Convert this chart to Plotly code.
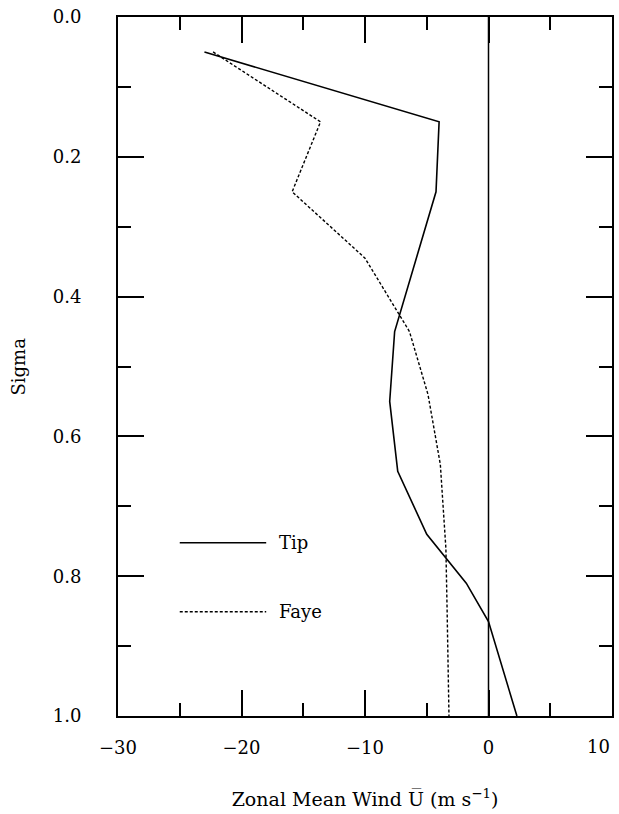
import plotly.graph_objects as go

# Data
sigma_tip = [0.05, 0.15, 0.25, 0.45, 0.55, 0.65, 0.74, 0.81, 0.865, 0.955, 1.0]
u_tip = [-23.0, -4.0, -4.25, -7.6, -8.0, -7.35, -5.0, -1.8, 0.0, 1.5, 2.3]

sigma_faye = [0.05, 0.15, 0.25, 0.345, 0.45, 0.54, 0.64, 0.76, 0.85, 0.95, 1.0]
u_faye = [-22.3, -13.6, -15.9, -10.0, -6.4, -4.9, -3.9, -3.45, -3.35, -3.25, -3.2]

legend_names = ["Tip", "Faye"]
x_ticks = [-30, -20, -10, 0, 10]
y_ticks = [0.0, 0.2, 0.4, 0.6, 0.8, 1.0]

FONT = "DejaVu Serif"

def fmt(v):
    return str(v).replace("-", "\u2212")

fig = go.Figure()
fig.add_trace(go.Scatter(x=u_tip, y=sigma_tip, mode="lines", name=legend_names[0],
                         line=dict(color="black", width=1.6), showlegend=False))
fig.add_trace(go.Scatter(x=u_faye, y=sigma_faye, mode="lines", name=legend_names[1],
                         line=dict(color="black", width=1.4, dash="3px,2px"), showlegend=False))

# zero line
fig.add_shape(type="line", xref="x", yref="paper", x0=0, x1=0, y0=0, y1=1,
              line=dict(color="black", width=1.5))

# hand-drawn style legend inside plot
leg_y = [0.752, 0.851]
leg_dash = ["solid", "3px,2px"]
for name, yy, dd in zip(legend_names, leg_y, leg_dash):
    fig.add_shape(type="line", xref="x", yref="y", x0=-25, x1=-18, y0=yy, y1=yy,
                  line=dict(color="black", width=1.5, dash=dd))
    fig.add_annotation(x=-17.1, y=yy, xref="x", yref="y", text=name, showarrow=False,
                       xanchor="left", yanchor="middle",
                       font=dict(family=FONT, size=18, color="black"))

# last x tick label sits flush with the right frame edge
fig.add_annotation(x=x_ticks[-1], y=0, xref="x", yref="paper", text=fmt(x_ticks[-1]),
                   showarrow=False, xanchor="right", yanchor="middle", yshift=-30,
                   font=dict(family=FONT, size=18, color="black"))

# y-axis title
fig.add_annotation(x=-100 / 494, y=0.5, xref="paper", yref="paper", text="Sigma",
                   textangle=-90, showarrow=False, xanchor="center", yanchor="middle",
                   font=dict(family=FONT, size=18, color="black"))

fig.update_layout(
    width=619, height=814,
    margin=dict(l=118, r=7, t=17, b=98, autoexpand=False),
    paper_bgcolor="white", plot_bgcolor="white",
    font=dict(family=FONT, size=18, color="black"),
    showlegend=False,
)
fig.update_xaxes(
    range=[-30, 10], tickvals=x_ticks,
    ticktext=[fmt(v) for v in x_ticks[:-1]] + [""],
    ticks="inside", ticklen=26, tickwidth=1.5,
    tickcolor="black", showline=True, linecolor="black", linewidth=2, mirror="ticks",
    showgrid=False, zeroline=False, ticklabelstandoff=14,
    automargin=False,
    minor=dict(dtick=5, ticks="inside", ticklen=13, tickwidth=1.5, tickcolor="black", showgrid=False),
    title=dict(text="Zonal Mean Wind U\u0305 (m s<sup>\u22121</sup>)", standoff=36,
               font=dict(family=FONT, size=19)),
    tickfont=dict(family=FONT, size=18),
)
fig.update_yaxes(
    range=[1, 0], tickvals=y_ticks, tickformat=".1f", ticks="inside", ticklen=26, tickwidth=1.5,
    tickcolor="black", showline=True, linecolor="black", linewidth=2, mirror="ticks",
    showgrid=False, zeroline=False, ticklabelstandoff=31, ticklabeloverflow="allow",
    automargin=False,
    minor=dict(dtick=0.1, ticks="inside", ticklen=13, tickwidth=1.5, tickcolor="black", showgrid=False),
    tickfont=dict(family=FONT, size=18),
)

fig.write_html("out.html")
